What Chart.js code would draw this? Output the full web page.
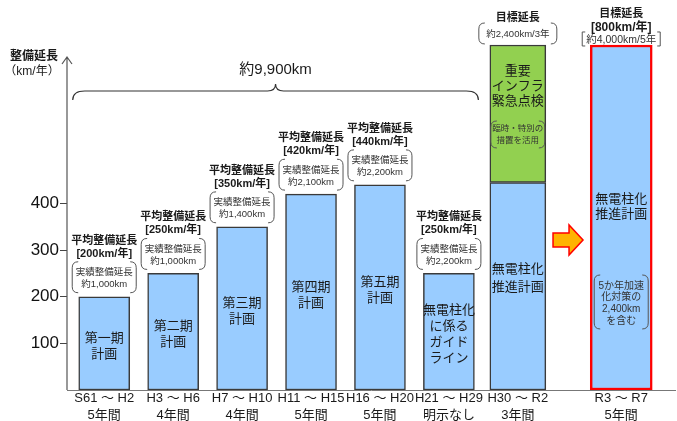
<!DOCTYPE html>
<html lang="ja">
<head>
<meta charset="utf-8">
<title>無電柱化の整備延長</title>
<script src="https://cdn.jsdelivr.net/npm/chart.js@4.4.1/dist/chart.umd.min.js"></script>
<style>
  body { margin: 0; background: #fff; }
  #wrap { width: 677px; height: 421px; }
</style>
</head>
<body>
<div id="wrap"><canvas id="bar-chart"></canvas></div>
<script>
// 計画期間ごとの整備延長 (km/年)
var periods = ['S61 ～ H2', 'H3 ～ H6', 'H7 ～ H10', 'H11 ～ H15', 'H16 ～ H20', 'H21 ～ H29', 'H30 ～ R2', 'R3 ～ R7'];
var durations = ['5年間', '4年間', '4年間', '5年間', '5年間', '明示なし', '3年間', '5年間'];
var planValues = [200, 250, 350, 420, 440, 250, 445, 740];
var inspectionValues = [null, null, null, null, null, null, 295, null];
var avgRates = ['[200km/年]', '[250km/年]', '[350km/年]', '[420km/年]', '[440km/年]', '[250km/年]'];
var actualTotals = ['約1,000km', '約1,000km', '約1,400km', '約2,100km', '約2,200km', '約2,200km'];
var planNames = [
  ['第一期', '計画'], ['第二期', '計画'], ['第三期', '計画'], ['第四期', '計画'], ['第五期', '計画'],
  ['無電柱化', 'に係る', 'ガイド', 'ライン'], ['無電柱化', '推進計画'], ['無電柱化', '推進計画']
];
var inspectionName = ['重要', 'インフラ', '緊急点検'];
var inspectionNote = ['臨時・特別の', '措置を活用'];
var accelNote = ['5か年加速', '化対策の', '2,400km', 'を含む'];
var yTicks = [100, 200, 300, 400];
var totalPast = '約9,900km';

var FONT = "'Liberation Sans', 'Noto Sans CJK JP', sans-serif";
var BLUE = '#99CCFF', GREEN = '#92D050', EDGE = '#3a3a3a';

// last bar sits after a gap (arrow goes there)
var xs = periods.map(function(p, i){ return i < 7 ? i : i + 0.5; });

function pt(i, arr){ return { x: xs[i], y: arr[i] }; }

function put(ctx, str, x, y, size, bold, color) {
  ctx.font = (bold ? 'bold ' : '') + size + 'px ' + FONT;
  ctx.fillStyle = color || '#1a1a1a';
  ctx.textAlign = 'center';
  ctx.textBaseline = 'middle';
  ctx.fillText(str, x, y);
}

function lines(ctx, arr, x, y0, step, size, bold, color) {
  arr.forEach(function(s, i){ put(ctx, s, x, y0 + i * step, size, bold, color); });
}

function roundBrackets(ctx, cx, top, bottom, w) {
  var r = 6, l = cx - w / 2, rt = cx + w / 2;
  ctx.beginPath();
  ctx.moveTo(l + r, top); ctx.quadraticCurveTo(l, top, l, top + r);
  ctx.lineTo(l, bottom - r); ctx.quadraticCurveTo(l, bottom, l + r, bottom);
  ctx.moveTo(rt - r, top); ctx.quadraticCurveTo(rt, top, rt, top + r);
  ctx.lineTo(rt, bottom - r); ctx.quadraticCurveTo(rt, bottom, rt - r, bottom);
  ctx.stroke();
}

function brace(ctx, x1, x2, y, h) {
  var mid = (x1 + x2) / 2;
  ctx.beginPath();
  ctx.moveTo(x1, y + h);
  ctx.quadraticCurveTo(x1, y, x1 + 12, y);
  ctx.lineTo(mid - 8, y);
  ctx.quadraticCurveTo(mid, y, mid, y - 7);
  ctx.quadraticCurveTo(mid, y, mid + 8, y);
  ctx.lineTo(x2 - 12, y);
  ctx.quadraticCurveTo(x2, y, x2, y + h);
  ctx.stroke();
}

var notes = {
  id: 'notes',
  afterDatasetsDraw: function(chart) {
    var ctx = chart.ctx;
    var past = chart.getDatasetMeta(0).data;
    var blue7 = chart.getDatasetMeta(1).data[0];
    var green7 = chart.getDatasetMeta(2).data[0];
    var next = chart.getDatasetMeta(3).data[0];
    var area = chart.chartArea;
    ctx.save();

    // y axis with arrow
    ctx.strokeStyle = '#555'; ctx.lineWidth = 1.2;
    ctx.beginPath();
    ctx.moveTo(area.left, area.bottom); ctx.lineTo(area.left, 57);
    ctx.moveTo(area.left - 5, 64); ctx.lineTo(area.left, 57); ctx.lineTo(area.left + 5, 64);
    ctx.stroke();
    put(ctx, '整備延長', 34, 57, 12, true);
    put(ctx, '（km/年）', 32, 72, 12, false);

    // past plans
    ctx.strokeStyle = '#555'; ctx.lineWidth = 1;
    past.forEach(function(bar, i){
      var t = bar.y;
      put(ctx, '平均整備延長', bar.x, t - 56, 11, true);
      put(ctx, avgRates[i], bar.x, t - 43, 11, true);
      roundBrackets(ctx, bar.x, t - 35, t - 4, 64);
      put(ctx, '実績整備延長', bar.x, t - 24, 9.5, false, '#333');
      put(ctx, actualTotals[i], bar.x, t - 12, 9.5, false, '#333');
      var n = planNames[i].length, mid = (bar.y + bar.base) / 2 + 3;
      lines(ctx, planNames[i], bar.x, mid - (n - 1) * 8, 16, 13);
    });

    // total brace
    ctx.strokeStyle = '#333'; ctx.lineWidth = 1.2;
    var bl = past[0].x - past[0].width / 2 - 6, br = past[5].x + past[5].width / 2 + 4;
    brace(ctx, bl, br, 91, 9);
    put(ctx, totalPast, (bl + br) / 2, 70, 15, false);

    // H30 ~ R2
    ctx.strokeStyle = '#555'; ctx.lineWidth = 1;
    put(ctx, '目標延長', blue7.x, green7.y - 27, 11, true);
    roundBrackets(ctx, blue7.x, green7.y - 22, green7.y - 1, 78);
    put(ctx, '約2,400km/3年', blue7.x, green7.y - 11, 9.5, false, '#333');
    lines(ctx, inspectionName, green7.x, green7.y + 26, 15, 13);
    roundBrackets(ctx, green7.x, green7.y + 76, green7.y + 103, 54);
    lines(ctx, inspectionNote, green7.x, green7.y + 84, 12, 8.5, false, '#333');
    lines(ctx, planNames[6], blue7.x, blue7.y + 87, 18, 13);

    // arrow
    var ax = (blue7.x + blue7.width / 2 + next.x - next.width / 2) / 2, ay = 240;
    ctx.beginPath();
    ctx.moveTo(ax - 15, ay - 7); ctx.lineTo(ax + 1, ay - 7); ctx.lineTo(ax + 1, ay - 15);
    ctx.lineTo(ax + 15, ay); ctx.lineTo(ax + 1, ay + 15); ctx.lineTo(ax + 1, ay + 7);
    ctx.lineTo(ax - 15, ay + 7); ctx.closePath();
    ctx.fillStyle = '#FFB300'; ctx.fill();
    ctx.strokeStyle = '#FF0000'; ctx.lineWidth = 1.5; ctx.stroke();

    // R3 ~ R7
    put(ctx, '目標延長', next.x, next.y - 31, 11, true);
    put(ctx, '[800km/年]', next.x, next.y - 17, 12, true);
    ctx.strokeStyle = '#555'; ctx.lineWidth = 1;
    ctx.beginPath();
    ctx.moveTo(next.x - 36, next.y - 13); ctx.lineTo(next.x - 39, next.y - 13); ctx.lineTo(next.x - 39, next.y + 1); ctx.lineTo(next.x - 36, next.y + 1);
    ctx.moveTo(next.x + 36, next.y - 13); ctx.lineTo(next.x + 39, next.y - 13); ctx.lineTo(next.x + 39, next.y + 1); ctx.lineTo(next.x + 36, next.y + 1);
    ctx.stroke();
    put(ctx, '約4,000km/5年', next.x, next.y - 5, 10.5, false, '#333');
    lines(ctx, planNames[7], next.x, next.y + 154, 15, 13);
    roundBrackets(ctx, next.x, next.y + 230, next.y + 284, 54);
    lines(ctx, accelNote, next.x, next.y + 241, 11.7, 10, false, '#333');

    ctx.restore();
  }
};

new Chart(document.getElementById('bar-chart'), {
  type: 'bar',
  data: {
    datasets: [{
      label: '過去の計画',
      data: [0, 1, 2, 3, 4, 5].map(function(i){ return pt(i, planValues); }),
      backgroundColor: BLUE, borderColor: EDGE, borderWidth: 1.5, borderSkipped: false,
      barThickness: 51
    }, {
      label: '無電柱化推進計画',
      data: [pt(6, planValues)],
      backgroundColor: BLUE, borderColor: EDGE, borderWidth: 1.5, borderSkipped: false,
      barThickness: 56
    }, {
      label: '重要インフラ緊急点検',
      data: [pt(6, inspectionValues)],
      backgroundColor: GREEN, borderColor: EDGE, borderWidth: 1.5, borderSkipped: false,
      barThickness: 56
    }, {
      label: '無電柱化推進計画 (R3～R7)',
      data: [pt(7, planValues)],
      backgroundColor: BLUE, borderColor: '#FF0000', borderWidth: 2.5, borderSkipped: false,
      barThickness: 62
    }]
  },
  options: {
    responsive: true,
    maintainAspectRatio: false,
    animation: false,
    layout: { padding: { top: 17, right: 2, bottom: 0, left: 0 } },
    plugins: { legend: { display: false }, tooltip: { enabled: false } },
    scales: {
      x: {
        type: 'linear', stacked: true, offset: false, min: -0.54, max: 8.28,
        grid: { display: false, drawTicks: false },
        border: { display: true, color: '#777', width: 1 },
        afterBuildTicks: function(scale){ scale.ticks = xs.map(function(v){ return { value: v }; }); },
        afterFit: function(scale){ scale.height = 31; },
        ticks: {
          autoSkip: false, maxRotation: 0, padding: 0, color: '#1a1a1a',
          font: { family: FONT, size: 13, lineHeight: 1.32 },
          callback: function(v, i){ return [periods[i], durations[i]]; }
        }
      },
      y: {
        stacked: true, min: 0, max: 800,
        grid: { drawOnChartArea: false, drawTicks: true, tickLength: 7, color: '#444' },
        border: { display: false },
        afterBuildTicks: function(scale){ scale.ticks = yTicks.map(function(v){ return { value: v }; }); },
        afterFit: function(scale){ scale.width = 67; },
        ticks: { padding: 1, color: '#111', font: { family: FONT, size: 17 } }
      }
    }
  },
  plugins: [notes]
});
</script>
</body>
</html>
